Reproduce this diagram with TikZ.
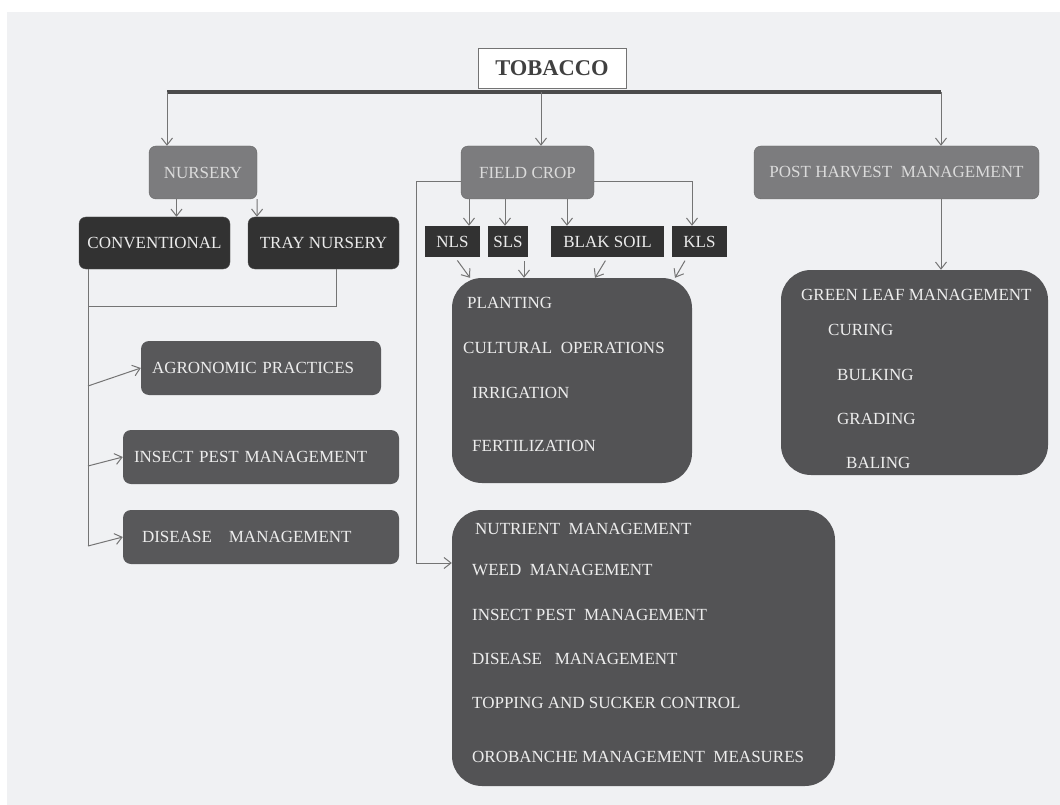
\documentclass[tikz,border=0pt]{standalone}
\usepackage{fontspec}
\setmainfont{Liberation Serif}
\usetikzlibrary{arrows.meta}
\definecolor{bgc}{HTML}{F0F1F3}
\definecolor{midg}{HTML}{7C7C7E}
\definecolor{darkg}{HTML}{323232}
\definecolor{itemg}{HTML}{58585A}
\definecolor{boxg}{HTML}{535355}
\definecolor{lineg}{HTML}{747474}
\definecolor{busg}{HTML}{4B4B4B}
\begin{document}
\begin{tikzpicture}[x=1pt,y=-1pt,
  lbl/.style={font=\fontsize{17}{20}\selectfont},
  head/.style={draw=black!55, fill=white, minimum width=148pt, minimum height=40pt, font=\fontsize{22.5}{26}\selectfont\bfseries, text=black!75},
  cat/.style={lbl, rounded corners=7pt, draw=black!60, fill=midg, text=black!14, minimum height=53pt},
  sub/.style={lbl, rounded corners=7pt, draw=black!70, fill=darkg, text=black!8, minimum height=52pt, minimum width=151pt},
  soil/.style={lbl, fill=darkg, text=black!8, minimum height=31pt},
  prac/.style={lbl, rounded corners=8pt, fill=itemg, text=black!7, minimum height=54pt, align=left},
  panel/.style={rounded corners=30pt, fill=boxg},
  entry/.style={lbl, anchor=west, text=black!7, inner sep=0pt},
  arr/.style={draw=lineg, line width=1pt, -{Straight Barb[length=7pt,width=11pt]}},
  link/.style={draw=lineg, line width=1pt}]
\fill[bgc] (7,12) rectangle (1060,805);
\useasboundingbox (0,0) rectangle (1060,805);
\node[head] (tob) at (552,68) {TOBACCO};
\node[cat, minimum width=108pt] (nur) at (203,172.5) {NURSERY};
\node[cat, minimum width=133pt] (fc) at (527.5,172.5) {FIELD CROP};
\node[cat, minimum width=285pt] (post) at (896.5,172.5) {POST HARVEST~ MANAGEMENT};
\node[sub] (conv) at (154.5,243) {CONVENTIONAL};
\node[sub] (tray) at (323.5,243) {TRAY NURSERY};
\node[soil, minimum width=55pt] (nls) at (452.5,241.5) {NLS};
\node[soil, minimum width=40pt] (sls) at (508,241.5) {SLS};
\node[soil, minimum width=113pt] (blak) at (607.5,241.5) {BLAK SOIL};
\node[soil, minimum width=55pt] (kls) at (699.5,241.5) {KLS};
\node[prac, text width=218pt, inner xsep=11pt] (agr) at (261,368) {AGRONOMIC PRACTICES};
\node[prac, text width=254pt, inner xsep=11pt] (ins) at (261,457) {INSECT PEST MANAGEMENT};
\node[prac, text width=238pt, inner xsep=19pt] (dis) at (261,537) {DISEASE~~ MANAGEMENT};
\node[panel, minimum width=240pt, minimum height=205pt] (plt) at (572,380.5) {};
\node[panel, minimum width=267pt, minimum height=205pt] (glm) at (914.5,372.5) {};
\node[panel, minimum width=383pt, minimum height=276pt] (nut) at (643.5,648) {};
\node[entry] (plt1) at (467,303) {PLANTING};
\node[entry] (plt2) at (463,348) {CULTURAL~ OPERATIONS};
\node[entry] (plt3) at (472,393) {IRRIGATION};
\node[entry] (plt4) at (472,446) {FERTILIZATION};
\node[entry] (glm1) at (801,295) {GREEN LEAF MANAGEMENT};
\node[entry] (glm2) at (828,330) {CURING};
\node[entry] (glm3) at (837,375) {BULKING};
\node[entry] (glm4) at (837,419) {GRADING};
\node[entry] (glm5) at (846,463) {BALING};
\node[entry] (nut1) at (475,529) {NUTRIENT~ MANAGEMENT};
\node[entry] (nut2) at (472,570) {WEED~ MANAGEMENT};
\node[entry] (nut3) at (472,615) {INSECT PEST~ MANAGEMENT};
\node[entry] (nut4) at (472,659) {DISEASE~~ MANAGEMENT};
\node[entry] (nut5) at (472,703) {TOPPING AND SUCKER CONTROL};
\node[entry] (nut6) at (472,757) {OROBANCHE MANAGEMENT~ MEASURES};
\coordinate (busl) at (167,92);
\coordinate (busm) at (541,92);
\coordinate (busr) at (941,92);
\draw[line width=3.5pt, draw=busg] (busl) -- (busr);
\draw[arr] (busl) -- (busl |- nur.north);
\draw[arr] (busm) -- (busm |- fc.north);
\draw[arr] (busr) -- (busr |- post.north);
\draw[arr] (busr |- post.south) -- (busr |- glm.north);
\draw[arr] ([xshift=-26.5pt]nur.south) -- ([xshift=22pt]conv.north);
\draw[arr] (nur.south east) -- ([xshift=-66.5pt]tray.north);
\draw[arr] ([xshift=-58.5pt]fc.south) -- ([xshift=16.5pt]nls.north);
\draw[arr] ([xshift=-22.5pt]fc.south) -- ([xshift=-3pt]sls.north);
\draw[arr] ([xshift=39.5pt]fc.south) -- ([xshift=-40.5pt]blak.north);
\draw[arr] ([yshift=-9.5pt]fc.east) -| ([xshift=-7.5pt]kls.north);
\coordinate (fcbend) at (416,563);
\draw[arr] ([yshift=-9.5pt]fc.west) -| (fcbend) -- (fcbend -| nut.west);
\draw[arr, shorten <=4pt] ([xshift=2.5pt]nls.south) -- ([xshift=-102pt]plt.north);
\draw[arr, shorten <=4pt] ([xshift=16pt]sls.south) -- ([xshift=-48pt]plt.north);
\draw[arr, shorten <=4pt] (blak.south) -- ([xshift=23pt]plt.north);
\draw[arr, shorten <=4pt] ([xshift=-12.5pt]kls.south) -- ([xshift=103pt]plt.north);
\coordinate (j0) at (88,306);
\coordinate (j1) at (88,386);
\coordinate (j2) at (88,466);
\coordinate (j3) at (88,546);
\draw[link] (j3) -- (j3 |- conv.south);
\draw[link] ([xshift=12.5pt]tray.south) |- (j0);
\draw[arr] (j1) -- (agr.west);
\draw[arr] (j2) -- (ins.west);
\draw[arr] (j3) -- (dis.west);
\end{tikzpicture}
\end{document}
